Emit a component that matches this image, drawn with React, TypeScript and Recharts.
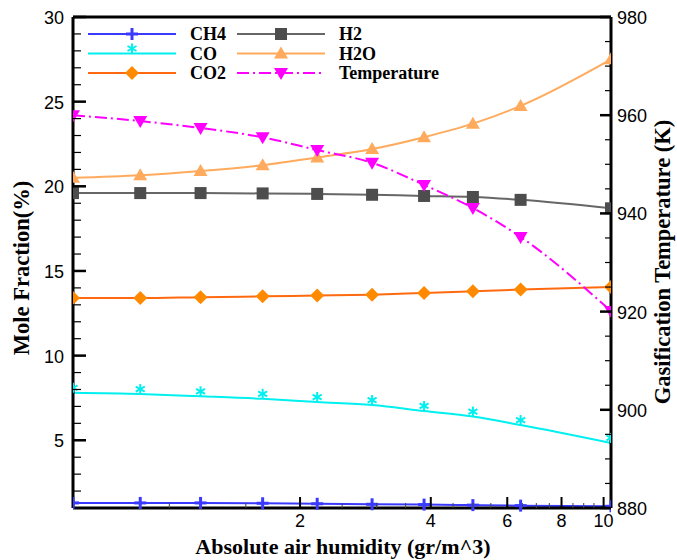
import { LineChart, Line, XAxis, YAxis, ReferenceLine } from 'recharts';

// absolute air humidity (gr/m^3), log axis
const humidity = [0.6, 0.857, 1.18, 1.64, 2.19, 2.93, 3.86, 5.0, 6.44, 10.4];

// mole fractions (%)
const ch4 = [1.3, 1.3, 1.3, 1.28, 1.25, 1.22, 1.2, 1.17, 1.14, 1.1];
const co = [7.8, 7.73, 7.6, 7.45, 7.26, 7.08, 6.73, 6.4, 5.9, 4.84];
const co2 = [13.4, 13.4, 13.45, 13.5, 13.55, 13.6, 13.7, 13.8, 13.9, 14.05];
const h2 = [19.6, 19.6, 19.6, 19.58, 19.55, 19.5, 19.43, 19.37, 19.2, 18.7];
const h2o = [20.5, 20.65, 20.9, 21.25, 21.7, 22.2, 22.9, 23.7, 24.75, 27.5];

// gasification temperature (K)
const temperature = [960, 958.8, 957.4, 955.5, 952.9, 950.3, 945.8, 941.1, 935.2, 920.1];

const xMajor = [2, 4, 6, 8, 10];
const xTicks = [1, 1.5, 2, 2.5, 3, 3.5, 4, 4.5, 5, 5.5, 6, 6.5, 7, 7.5, 8, 8.5, 9, 9.5, 10];
const leftTicks = Array.from({ length: 29 }, (_, i) => i + 2);
const rightTicks = Array.from({ length: 21 }, (_, i) => 880 + i * 5);

const data = humidity.map((h, i) => ({
  h,
  ch4: ch4[i],
  co: co[i],
  co2: co2[i],
  h2: h2[i],
  h2o: h2o[i],
  temp: temperature[i],
}));

const SANS = 'Liberation Sans, Arial, sans-serif';
const SERIF = 'Liberation Serif, Times New Roman, serif';

const C = {
  ch4: '#3a3aff',
  co: '#00f0f0',
  co2: '#ff6a10',
  co2Dot: '#ff8a00',
  h2: '#666666',
  h2Dot: '#4d4d4d',
  h2o: '#ffaa5c',
  temp: '#ff00ff',
};

// marker shapes
const Plus = ({ cx, cy }: any) => (
  <g stroke={C.ch4} strokeWidth={3}>
    <line x1={cx - 6} x2={cx + 6} y1={cy} y2={cy} />
    <line x1={cx} x2={cx} y1={cy - 6} y2={cy + 6} />
  </g>
);
const Star = ({ cx, cy }: any) => {
  const y = cy - 5;
  return (
    <g stroke={C.co} strokeWidth={2}>
      <line x1={cx} x2={cx} y1={y - 5} y2={y + 5} />
      <line x1={cx - 4.5} x2={cx + 4.5} y1={y - 2.5} y2={y + 2.5} />
      <line x1={cx - 4.5} x2={cx + 4.5} y1={y + 2.5} y2={y - 2.5} />
    </g>
  );
};
const Diamond = ({ cx, cy }: any) => (
  <path d={`M${cx},${cy - 7}L${cx + 7},${cy}L${cx},${cy + 7}L${cx - 7},${cy}Z`} fill={C.co2Dot} />
);
const Square = ({ cx, cy }: any) => <rect x={cx - 6} y={cy - 6} width={12} height={12} fill={C.h2Dot} />;
const Tri = ({ cx, cy }: any) => (
  <path d={`M${cx},${cy - 7}L${cx + 7},${cy + 5}L${cx - 7},${cy + 5}Z`} fill={C.h2o} />
);
const InvTri = ({ cx, cy }: any) => (
  <path d={`M${cx},${cy + 7}L${cx + 7},${cy - 5}L${cx - 7},${cy - 5}Z`} fill={C.temp} />
);

const XTick = ({ x, y, payload }: any) => {
  const major = xMajor.includes(payload.value);
  return (
    <g>
      <line x1={x} x2={x} y1={y} y2={y - (major ? 11 : 5)} stroke={major ? '#000' : '#444'} strokeWidth={major ? 2 : 1} />
      {major && (
        <text x={x} y={y + 19} textAnchor="middle" fontSize={18} fontFamily={SANS} fill="#000">
          {payload.value}
        </text>
      )}
    </g>
  );
};

const LeftTick = ({ x, y, payload }: any) => {
  const major = payload.value % 5 === 0;
  return (
    <g>
      <line x1={x} x2={x + (major ? 13 : 8)} y1={y} y2={y} stroke="#000" strokeWidth={major ? 2.5 : 1.2} />
      {major && (
        <text x={x - 9} y={y + 7} textAnchor="end" fontSize={18} fontFamily={SANS} fill="#000">
          {payload.value}
        </text>
      )}
    </g>
  );
};

const RightTick = ({ x, y, payload }: any) => {
  const major = payload.value % 20 === 0;
  return (
    <g>
      <line x1={x} x2={x - (major ? 11 : 6)} y1={y} y2={y} stroke="#000" strokeWidth={major ? 2.5 : 1.2} />
      {major && (
        <text x={x + 6} y={y + 7} textAnchor="start" fontSize={18} fontFamily={SANS} fill="#000">
          {payload.value}
        </text>
      )}
    </g>
  );
};

const legendItems = [
  { name: 'CH4', color: C.ch4, Mark: Plus, col: 0, row: 0 },
  { name: 'CO', color: C.co, Mark: Star, col: 0, row: 1 },
  { name: 'CO2', color: C.co2, Mark: Diamond, col: 0, row: 2 },
  { name: 'H2', color: C.h2, Mark: Square, col: 1, row: 0 },
  { name: 'H2O', color: C.h2o, Mark: Tri, col: 1, row: 1 },
  { name: 'Temperature', color: C.temp, Mark: InvTri, col: 1, row: 2, dash: '12 4 2 4' },
];

export default function App() {
  return (
    <div style={{ position: 'absolute', left: 0, top: 0, width: 677, height: 560, background: '#fff' }}>
      <LineChart width={677} height={560} data={data} margin={{ top: 17, right: 0, bottom: 0, left: 0 }}>
        <XAxis
          dataKey="h"
          type="number"
          scale="log"
          domain={[0.6, 10.4]}
          allowDataOverflow
          ticks={xTicks}
          interval={0}
          height={52}
          tickSize={0}
          tickMargin={0}
          tickLine={false}
          axisLine={{ stroke: '#000', strokeWidth: 3 }}
          tick={<XTick />}
        />
        <YAxis
          yAxisId="left"
          type="number"
          domain={[1, 30]}
          ticks={leftTicks}
          interval={0}
          width={73}
          tickSize={0}
          tickMargin={0}
          tickLine={false}
          axisLine={{ stroke: '#000', strokeWidth: 3 }}
          tick={<LeftTick />}
        />
        <YAxis
          yAxisId="right"
          orientation="right"
          type="number"
          domain={[880, 980]}
          ticks={rightTicks}
          interval={0}
          width={66}
          tickSize={0}
          tickMargin={0}
          tickLine={false}
          axisLine={{ stroke: '#000', strokeWidth: 3 }}
          tick={<RightTick />}
        />
        <ReferenceLine yAxisId="left" y={30} stroke="#000" strokeWidth={3} />
        <Line yAxisId="left" type="monotone" dataKey="ch4" stroke={C.ch4} strokeWidth={2} dot={<Plus />} isAnimationActive={false} />
        <Line yAxisId="left" type="monotone" dataKey="co" stroke={C.co} strokeWidth={2} dot={<Star />} isAnimationActive={false} />
        <Line yAxisId="left" type="monotone" dataKey="co2" stroke={C.co2} strokeWidth={2} dot={<Diamond />} isAnimationActive={false} />
        <Line yAxisId="left" type="monotone" dataKey="h2" stroke={C.h2} strokeWidth={2} dot={<Square />} isAnimationActive={false} />
        <Line yAxisId="left" type="monotone" dataKey="h2o" stroke={C.h2o} strokeWidth={2} dot={<Tri />} isAnimationActive={false} />
        <Line
          yAxisId="right"
          type="monotone"
          dataKey="temp"
          stroke={C.temp}
          strokeWidth={2}
          strokeDasharray="12 4 2 4"
          dot={<InvTri />}
          isAnimationActive={false}
        />
      </LineChart>
      <svg width={677} height={560} style={{ position: 'absolute', left: 0, top: 0, pointerEvents: 'none' }}>
        {legendItems.map((it) => {
          const x0 = 88 + it.col * 149;
          const y = 34 + it.row * 19.5;
          const M = it.Mark;
          return (
            <g key={it.name}>
              <line x1={x0} x2={x0 + 88} y1={y} y2={y} stroke={it.color} strokeWidth={2} strokeDasharray={it.dash} />
              <M cx={x0 + 44} cy={y} />
              <text x={x0 + 102} y={y + 6} fontSize={18} fontWeight="bold" fontFamily={SERIF} fill="#000">
                {it.name}
              </text>
            </g>
          );
        })}
        <text x={343} y={554} textAnchor="middle" fontSize={22} fontWeight="bold" fontFamily={SERIF} fill="#000">
          Absolute air humidity (gr/m^3)
        </text>
        <text
          transform="translate(29,268) rotate(-90)"
          textAnchor="middle"
          fontSize={22.5}
          fontWeight="bold"
          fontFamily={SERIF}
          fill="#000"
        >
          Mole Fraction(%)
        </text>
        <text
          transform="translate(670,262) rotate(-90)"
          textAnchor="middle"
          fontSize={22.5}
          fontWeight="bold"
          fontFamily={SERIF}
          fill="#000"
        >
          Gasification Temperature (K)
        </text>
      </svg>
    </div>
  );
}
